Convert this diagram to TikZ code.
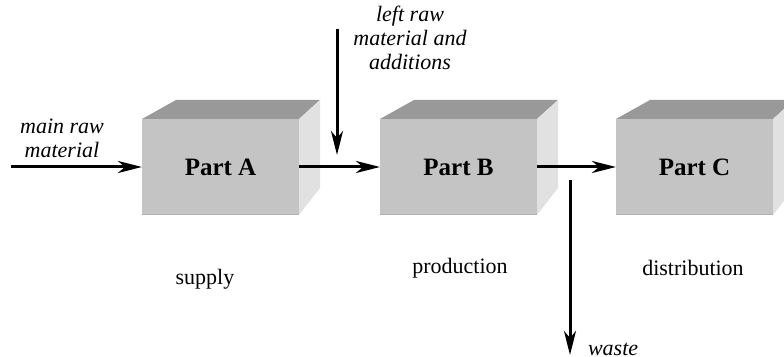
\documentclass[tikz,border=0pt]{standalone}
\usepackage{fontspec}
\setmainfont{Liberation Serif}
\newfontfamily\timesfont{Liberation Serif}
\usetikzlibrary{arrows.meta,calc}

\definecolor{frontgray}{HTML}{C4C4C4}
\definecolor{topgray}{HTML}{999999}
\definecolor{sidegray}{HTML}{E1E1E1}
\definecolor{edgegray}{HTML}{B2B2B2}

\begin{document}
\begin{tikzpicture}[x=0.5pt,y=-0.5pt]
  \tikzstyle{part}=[fill=frontgray,minimum width=78.5pt,minimum height=48pt,
    inner sep=0pt,outer sep=0pt,font=\timesfont\fontsize{12.5}{14}\selectfont\bfseries]
  \tikzstyle{flow}=[line width=1.5pt,-{Stealth[length=12pt,width=6pt,inset=3.5pt]}]
  \tikzstyle{note}=[font=\timesfont\fontsize{11}{12}\selectfont\itshape,align=center]
  \tikzstyle{stage}=[font=\timesfont\fontsize{11}{13}\selectfont]

  \useasboundingbox (0,0) rectangle (784,357);
  \clip (0,0) rectangle (784,357);

  % the three parts of the chain
  \node[part] (partA) at (220.5,167) {Part A};
  \node[part] (partB) at (458.5,167) {Part B};
  \node[part] (partC) at (694.5,167) {Part C};

  % top and side faces
  \foreach \n in {partA,partB,partC} {
    \fill[topgray] (\n.north west) -- ++(34,-19) -- ($(\n.north east)+(21,-19)$)
      -- (\n.north east) -- cycle;
    \fill[sidegray] (\n.north east) -- ++(21,-19) -- ($(\n.south east)+(21,-27)$)
      -- (\n.south east) -- cycle;
    \draw[edgegray,line width=0.5pt] (\n.south west) -- (\n.south east);
  }

  % flows in and out
  \coordinate (mainin) at (11,167);
  \coordinate (leftin) at (337,29);
  \coordinate (leftend) at (337,155);
  \coordinate (wastefrom) at (570,180);
  \coordinate (wasteto) at (570,355);

  \draw[flow] (mainin) -- (partA);
  \draw[flow] (partA) -- (partB);
  \draw[flow] (partB) -- (partC);
  \draw[flow] (leftin) -- (leftend);
  \draw[flow] (wastefrom) -- (wasteto);

  \node[note] (mainlbl) at (62,138) {main raw\\material};
  \node[note] (leftlbl) at (410,38) {left raw\\material and\\additions};
  \node[note,anchor=west] (wastelbl) at (581,349) {waste};

  \node[stage] (supply) at (205,279) {supply};
  \node[stage] (production) at (460,268) {production};
  \node[stage] (distribution) at (693,268) {distribution};
\end{tikzpicture}
\end{document}
